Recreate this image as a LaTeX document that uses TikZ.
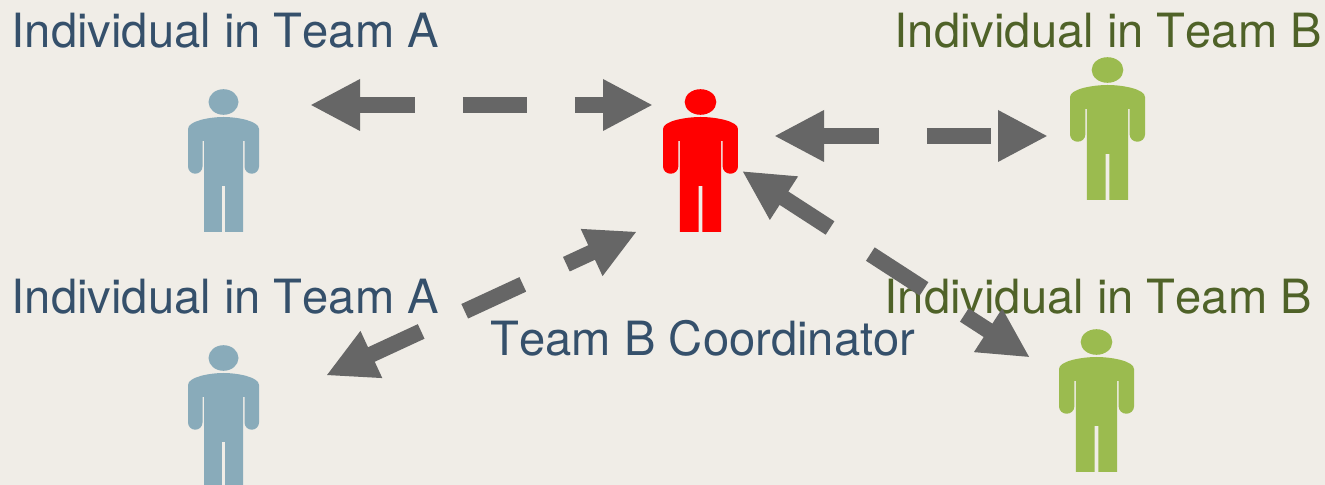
\documentclass[tikz,border=0pt]{standalone}
\usepackage{fontspec}
\setmainfont[Kerning=Off]{TeX Gyre Heros}
\usetikzlibrary{arrows.meta}
\definecolor{paper}{HTML}{F0EDE7}
\definecolor{teamablue}{HTML}{89ABBA}
\definecolor{teambgreen}{HTML}{9BBB4F}
\definecolor{teamatext}{HTML}{35506B}
\definecolor{teambtext}{HTML}{4F6228}
\definecolor{arrowgrey}{HTML}{666666}
\tikzset{
	person/.pic={
		\fill (0,1.30) ellipse (0.15 and 0.128);
		\fill (-0.195,0) -- (-0.195,0.91) -- (-0.21,0.91) -- (-0.21,0.655)
			arc (0:-180:0.0725) -- (-0.355,1.03)
			.. controls (-0.355,1.11) and (-0.14,1.15) .. (0,1.15)
			.. controls (0.14,1.15) and (0.355,1.11) .. (0.355,1.03)
			-- (0.355,0.655) arc (0:-180:0.0725) -- (0.21,0.91) -- (0.195,0.91)
			-- (0.195,0) -- (0.017,0) -- (0.017,0.46) -- (-0.017,0.46) -- (-0.017,0) -- (-0.195,0) -- cycle;
	},
	talk/.style={
		draw=arrowgrey,line width=0.16cm,
		dash pattern=on 0.64cm off 0.48cm,dash phase=0.06cm,
		{Triangle[length=0.5cm,width=0.48cm]}-{Triangle[length=0.5cm,width=0.48cm]}
	},
	caption/.style={font=\fontsize{13.42pt}{15pt}\selectfont,anchor=base west,inner sep=0pt}
}
\begin{document}
\begin{tikzpicture}
	\fill[paper] (0,0) rectangle (13.25,4.85);
	\useasboundingbox (0,0) rectangle (13.25,4.85);

	\node (labelA1)[caption,text=teamatext] at (0.11,4.37) {Individual in Team A};
	\node (labelA2)[caption,text=teamatext] at (0.11,1.71) {Individual in Team A};
	\node (labelB1)[caption,text=teambtext] at (8.94,4.37) {Individual in Team B};
	\node (labelB2)[caption,text=teambtext] at (8.84,1.71) {Individual in Team B};
	\node (labelC)[caption,text=teamatext] at (4.90,1.29) {Team B Coordinator};

	% people, x and y of the feet
	\foreach \px/\py/\pw/\col in {2.235/2.53/1/teamablue, 2.235/-0.03/1/teamablue, 7.005/2.53/1.056/red, 11.075/2.85/1.056/teambgreen, 10.965/0.13/1.056/teambgreen}{
		\pic[fill=\col,xscale=\pw] at (\px,\py) {person};
	}

	% ends of the arrows
	\coordinate (leftA) at (3.10,3.80);
	\coordinate (rightA) at (6.53,3.80);
	\coordinate (leftB) at (7.74,3.49);
	\coordinate (rightB) at (10.48,3.49);
	\coordinate (lowA) at (3.26,1.095);
	\coordinate (upA) at (6.37,2.535);
	\coordinate (upB) at (7.42,3.14);
	\coordinate (lowB) at (10.30,1.275);

	\draw[talk] (leftA) -- (rightA);
	\draw[talk] (leftB) -- (rightB);
	\draw[talk] (lowA) -- (upA);
	\draw[talk] (upB) -- (lowB);
\end{tikzpicture}
\end{document}
